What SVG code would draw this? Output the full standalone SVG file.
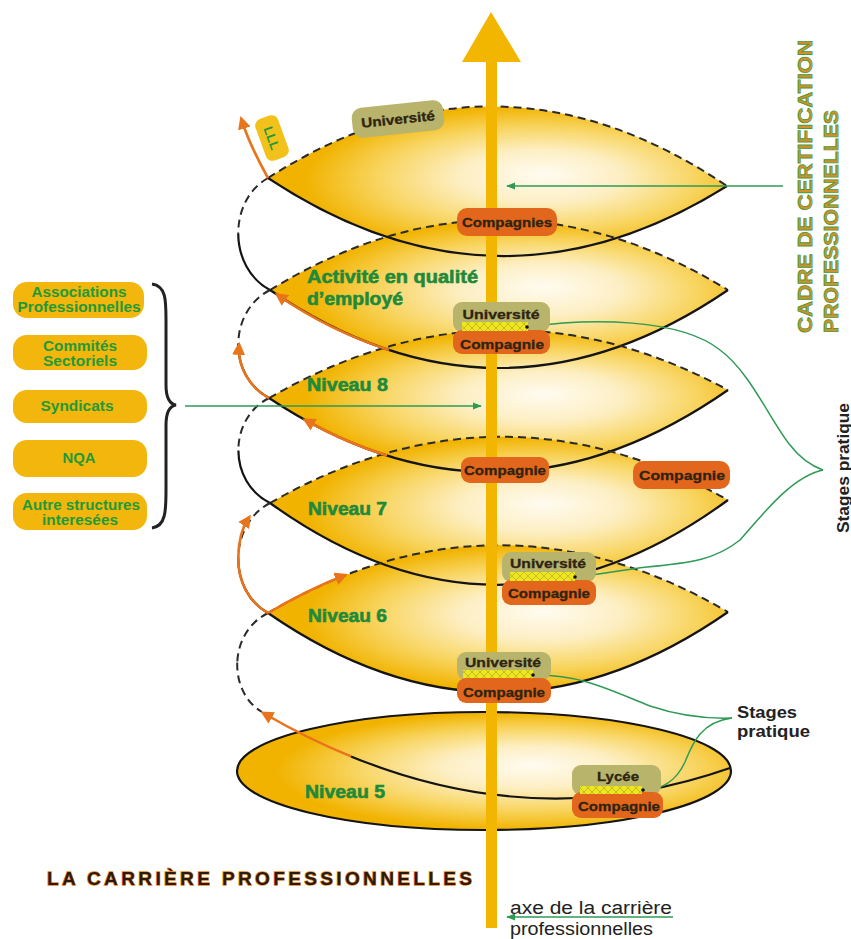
<svg xmlns="http://www.w3.org/2000/svg" width="851" height="939" viewBox="0 0 851 939">
<defs>
<radialGradient id="lensg" cx="0.58" cy="0.5" r="0.5" fx="0.6" fy="0.45">
<stop offset="0" stop-color="#fffbf0"/>
<stop offset="0.35" stop-color="#fdefc4"/>
<stop offset="0.7" stop-color="#f8d45e"/>
<stop offset="1" stop-color="#f1b300"/>
</radialGradient>
<pattern id="hatch" width="8" height="8" patternUnits="userSpaceOnUse">
<rect width="8" height="8" fill="#eee61e"/>
<path d="M0,0 L8,8 M8,0 L0,8" stroke="#b9b22a" stroke-width="0.8"/>
</pattern>
<marker id="ga" viewBox="0 0 10 10" refX="9" refY="5" markerWidth="6" markerHeight="6" orient="auto"><path d="M0,1 L10,5 L0,9 Z" fill="#2e9a55"/></marker>
<marker id="oa" viewBox="0 0 10 10" refX="6" refY="5" markerWidth="13" markerHeight="13" markerUnits="userSpaceOnUse" orient="auto"><path d="M0,0 L10,5 L0,10 Z" fill="#e8741c"/></marker>
<style>
.fill{fill:url(#lensg)}
.top{fill:none;stroke:#2a2a2a;stroke-width:2;stroke-dasharray:8 5}
.bot{fill:none;stroke:#141414;stroke-width:2.2}
.dash{fill:none;stroke:#2a2a2a;stroke-width:2;stroke-dasharray:8 5}
.solid{fill:none;stroke:#141414;stroke-width:2.2}
.or{fill:none;stroke:#e8741c;stroke-width:2.6;marker-end:url(#oa)}
.gl{fill:none;stroke:#2e9a55;stroke-width:1.5}
.univ{fill:#b8b46c}
.comp{fill:#e2661c}
.bt{font-family:"Liberation Sans",Arial,sans-serif;font-weight:bold;font-size:13.5px;text-anchor:middle;fill:#2e2410;stroke:#2e2410;stroke-width:0.3}
.niv{font-family:"Liberation Sans",Arial,sans-serif;font-weight:bold;font-size:18px;fill:#1f8a3a;stroke:#1f8a3a;stroke-width:0.6}
.lbox{fill:#f2b60c}
.lt{font-family:"Liberation Sans",Arial,sans-serif;font-weight:bold;font-size:14px;text-anchor:middle;fill:#1f9a3a}
.blk{font-family:"Liberation Sans",Arial,sans-serif;font-weight:bold;font-size:16px;fill:#222}
</style>
</defs>
<rect width="851" height="939" fill="#ffffff"/>

<g id="lens-fills">
<path class="fill" d="M268,178 Q497,31 727,186 Q497,330 268,178 Z"/>
<path class="fill" d="M270,290 Q499,150 728,290 Q499,446 270,290 Z"/>
<path class="fill" d="M269,398 Q498,266 728,390 Q498,550 269,398 Z"/>
<path class="fill" d="M270,503 Q499,372 728,500 Q499,668 270,503 Z"/>
<path class="fill" d="M268,613 Q498,478 728,612 Q498,772 268,613 Z"/>
<ellipse class="fill" cx="484" cy="771" rx="247" ry="59"/>
</g>

<g id="connectors">
<path class="top" d="M268,178 Q497,31 727,186"/>
<path class="bot" d="M268,178 Q497,330 727,186"/>
<path class="top" d="M270,290 Q499,150 728,290"/>
<path class="bot" d="M270,290 Q499,446 728,290"/>
<path class="top" d="M269,398 Q498,266 728,390"/>
<path class="bot" d="M269,398 Q498,550 728,390"/>
<path class="top" d="M270,503 Q499,372 728,500"/>
<path class="bot" d="M270,503 Q499,668 728,500"/>
<path class="top" d="M268,613 Q498,478 728,612"/>
<path class="bot" d="M268,613 Q498,772 728,612"/>
<ellipse cx="484" cy="771" rx="247" ry="59" fill="none" stroke="#141414" stroke-width="2.2"/>
<path class="solid" d="M351,756.4 Q540.5,834.4 730,768"/>
<path class="dash" d="M268,178 C248,189.2 238,211.6 238.25,234"/>
<path class="solid" d="M238.25,234 C238.5,256.4 249,278.8 270,290"/>
<path class="dash" d="M270,290 C249,300.8 238.5,322.4 238.25,344"/>
<path class="solid" d="M238.25,344 C238,365.6 248.5,387.2 269,398"/>
<path class="dash" d="M269,398 C248.5,408.5 238.25,429.5 238.4,450.5"/>
<path class="solid" d="M238.4,450.5 C238.5,471.5 249,492.5 270,503"/>
<path class="dash" d="M270,503 C249,514 238.5,536 238.25,558"/>
<path class="solid" d="M238.25,558 C238,580 248,602 268,613"/>
<path class="dash" d="M268,613 C248,622.9 238,642.7 237.25,662.5"/>
<path class="dash" d="M237.25,662.5 C236.5,682.3 245,702.1 262,712"/>
<path class="or" d="M268,178 C258,160 248,140 242,121"/>
<path class="or" d="M389,350 Q329.5,330.6 279,296"/>
<path class="or" d="M269,398 C248.5,387.2 238,365.6 239,347"/>
<path class="or" d="M387,455.5 Q346.2,442.8 307,421"/>
<path class="or" d="M268,613 C248,602 238,580 238.25,558 C238.5,540 242,528 248,519"/>
<path class="or" d="M268,613 Q307.1,590 343,576"/>
<path class="or" d="M351,756.4 Q306.5,738.2 265,714"/>
<path class="gl" d="M783,186 L507,186" marker-end="url(#ga)"/>
<path class="gl" d="M185,406 L481,406" marker-end="url(#ga)"/>
<path class="gl" d="M673,917 L507,917" marker-end="url(#ga)"/>
<path class="gl" d="M527,327 C590,318 680,318 720,350 C750,372 770,420 790,445 C800,458 812,466 823,470"/>
<path class="gl" d="M823,470 C795,476 770,505 740,540 C715,560 690,563 647,567 C620,570 600,575 575,577"/>
<path class="gl" d="M533,675 C580,674 610,690 650,706 C680,716 705,719 732,718"/>
<path class="gl" d="M732,718 C700,722 692,745 685,762 C676,782 660,790 643,790"/>
</g>

<g id="axis">
<rect x="486" y="58" width="11" height="870" fill="#f3b600"/>
<polygon points="491,12 462,62 521,62" fill="#f3b600"/>
</g>

<g id="universite-top">
<g transform="translate(398,119) rotate(-6)">
<rect x="-46" y="-15" width="92" height="30" rx="10" class="univ"/>
<text class="bt" x="0" y="5" textLength="74" lengthAdjust="spacingAndGlyphs">Université</text>
</g>
</g>

<g id="lll">
<g transform="translate(272,138) rotate(70)">
<rect x="-22" y="-12" width="44" height="24" rx="7" fill="#f2c21a"/>
<text x="0" y="5" font-family="Liberation Sans, Arial, sans-serif" font-weight="bold" font-size="13" text-anchor="middle" fill="#1f9a3a">LLL</text>
</g>
</g>

<g id="compagnies-top">
<rect x="457" y="208" width="100" height="28" rx="10" class="comp"/>
<text class="bt" x="507" y="227" textLength="90" lengthAdjust="spacingAndGlyphs">Compagnies</text>
</g>

<g id="univ-comp-2">
<rect x="453" y="302" width="97" height="30" rx="9" class="univ"/>
<rect x="453" y="330" width="97" height="24" rx="9" class="comp"/>
<rect x="462" y="322" width="66" height="9" fill="url(#hatch)"/>
<circle cx="527" cy="327" r="1.8" fill="#111"/>
<text class="bt" x="501" y="319" textLength="77" lengthAdjust="spacingAndGlyphs">Université</text>
<text class="bt" x="502" y="348.5" textLength="84" lengthAdjust="spacingAndGlyphs">Compagnie</text>
</g>

<g id="compagnie-3">
<rect x="461" y="457" width="88" height="26" rx="9" class="comp"/>
<text class="bt" x="505" y="475" textLength="82" lengthAdjust="spacingAndGlyphs">Compagnie</text>
</g>

<g id="compagnie-right">
<rect x="633" y="461" width="97" height="28" rx="10" class="comp"/>
<text class="bt" x="682" y="480" textLength="86" lengthAdjust="spacingAndGlyphs">Compagnie</text>
</g>

<g id="univ-comp-5">
<rect x="502" y="552" width="94" height="30" rx="9" class="univ"/>
<rect x="502" y="580" width="94" height="25" rx="9" class="comp"/>
<rect x="510" y="572" width="65" height="9" fill="url(#hatch)"/>
<circle cx="575" cy="577" r="1.8" fill="#111"/>
<text class="bt" x="548" y="568" textLength="76" lengthAdjust="spacingAndGlyphs">Université</text>
<text class="bt" x="549" y="597.5" textLength="82" lengthAdjust="spacingAndGlyphs">Compagnie</text>
</g>

<g id="univ-comp-6">
<rect x="457" y="652" width="94" height="28" rx="9" class="univ"/>
<rect x="457" y="678" width="94" height="25" rx="9" class="comp"/>
<rect x="463" y="670" width="70" height="8" fill="url(#hatch)"/>
<circle cx="533" cy="675" r="1.8" fill="#111"/>
<text class="bt" x="503" y="667" textLength="76" lengthAdjust="spacingAndGlyphs">Université</text>
<text class="bt" x="504" y="696.5" textLength="82" lengthAdjust="spacingAndGlyphs">Compagnie</text>
</g>

<g id="lycee-comp">
<rect x="572" y="765" width="89" height="30" rx="9" class="univ"/>
<rect x="572" y="792" width="91" height="26" rx="9" class="comp"/>
<rect x="580" y="786" width="62" height="8" fill="url(#hatch)"/>
<circle cx="643" cy="790" r="1.8" fill="#111"/>
<text class="bt" x="618" y="781" textLength="42" lengthAdjust="spacingAndGlyphs">Lycée</text>
<text class="bt" x="619" y="811" textLength="82" lengthAdjust="spacingAndGlyphs">Compagnie</text>
</g>

<g id="level-labels">
<text class="niv" x="307" y="283" font-size="17" textLength="171" lengthAdjust="spacingAndGlyphs">Activité en qualité</text>
<text class="niv" x="307" y="305" font-size="17" textLength="96" lengthAdjust="spacingAndGlyphs">d’employé</text>
<text class="niv" x="307" y="391" textLength="81" lengthAdjust="spacingAndGlyphs">Niveau 8</text>
<text class="niv" x="308" y="515" textLength="79" lengthAdjust="spacingAndGlyphs">Niveau 7</text>
<text class="niv" x="308" y="622" textLength="79" lengthAdjust="spacingAndGlyphs">Niveau 6</text>
<text class="niv" x="305" y="798" textLength="80" lengthAdjust="spacingAndGlyphs">Niveau 5</text>
</g>

<g id="stakeholders">
<rect x="13" y="282" width="131" height="36" rx="14" class="lbox"/>
<text class="lt" x="79" y="297" textLength="95" lengthAdjust="spacingAndGlyphs">Associations</text>
<text class="lt" x="79" y="312" textLength="123" lengthAdjust="spacingAndGlyphs">Professionnelles</text>
<rect x="13" y="335" width="134" height="35" rx="14" class="lbox"/>
<text class="lt" x="80" y="351" textLength="74" lengthAdjust="spacingAndGlyphs">Commités</text>
<text class="lt" x="80" y="366" textLength="74" lengthAdjust="spacingAndGlyphs">Sectoriels</text>
<rect x="13" y="390" width="134" height="33" rx="14" class="lbox"/>
<text class="lt" x="77" y="411" textLength="73" lengthAdjust="spacingAndGlyphs">Syndicats</text>
<rect x="13" y="440" width="134" height="37" rx="14" class="lbox"/>
<text class="lt" x="79" y="463" textLength="33" lengthAdjust="spacingAndGlyphs">NQA</text>
<rect x="13" y="493" width="134" height="37" rx="14" class="lbox"/>
<text class="lt" x="81" y="510" textLength="118" lengthAdjust="spacingAndGlyphs">Autre structures</text>
<text class="lt" x="80" y="525" textLength="76" lengthAdjust="spacingAndGlyphs">interesées</text>
<path d="M152,284 C166,286 166,300 166,320 L166,385 C166,398 170,404 176,405 C170,406 166,412 166,425 L166,490 C166,510 166,526 152,528" fill="none" stroke="#222" stroke-width="3"/>
</g>

<g id="cadre-title">
<text transform="translate(812,333) rotate(-90)" font-family="Liberation Sans, Arial, sans-serif" font-weight="bold" font-size="21" fill="#d4902a" stroke="#4a9a3a" stroke-width="0.8" textLength="293" lengthAdjust="spacingAndGlyphs">CADRE DE CERTIFICATION</text>
<text transform="translate(838,333) rotate(-90)" font-family="Liberation Sans, Arial, sans-serif" font-weight="bold" font-size="21" fill="#d4902a" stroke="#4a9a3a" stroke-width="0.8" textLength="223" lengthAdjust="spacingAndGlyphs">PROFESSIONNELLES</text>
</g>

<g id="stages-right">
<text class="blk" transform="translate(849,468) rotate(-90)" text-anchor="middle" textLength="130" lengthAdjust="spacingAndGlyphs">Stages pratique</text>
</g>

<g id="stages-bottom">
<text class="blk" x="737" y="718" textLength="60" lengthAdjust="spacingAndGlyphs">Stages</text>
<text class="blk" x="737" y="737" textLength="73" lengthAdjust="spacingAndGlyphs">pratique</text>
</g>

<g id="career-title">
<text x="47" y="885" font-family="Liberation Sans, Arial, sans-serif" font-weight="bold" font-size="19" fill="#2b1a0e" stroke="#e8862a" stroke-width="1.3" paint-order="stroke" textLength="425" lengthAdjust="spacing">LA CARRIÈRE PROFESSIONNELLES</text>
</g>

<g id="axis-label">
<text x="510" y="914" font-family="Liberation Sans, Arial, sans-serif" font-size="18" fill="#222" textLength="162" lengthAdjust="spacingAndGlyphs">axe de la carrière</text>
<text x="510" y="935" font-family="Liberation Sans, Arial, sans-serif" font-size="18" fill="#222" textLength="143" lengthAdjust="spacingAndGlyphs">professionnelles</text>
</g>
</svg>
